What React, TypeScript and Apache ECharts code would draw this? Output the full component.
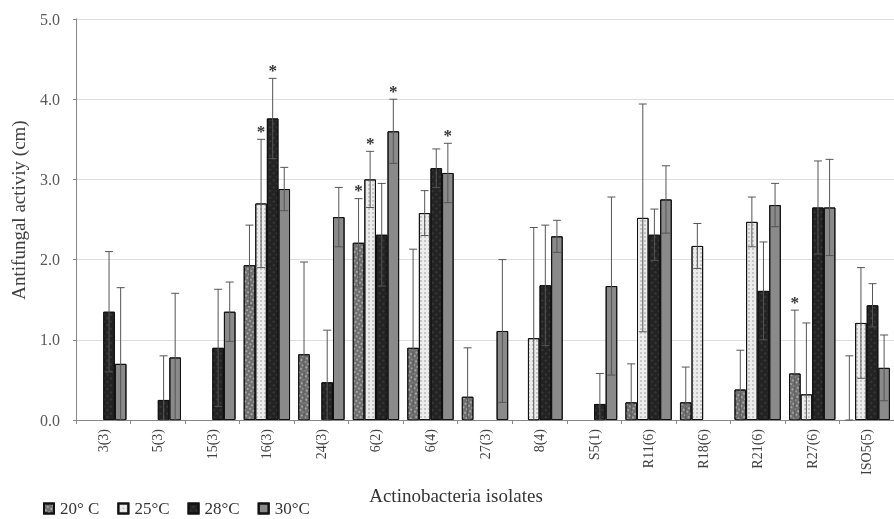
import React, { useEffect, useRef } from "react";
import * as echarts from "echarts";

const categories = ["3(3)", "5(3)", "15(3)", "16(3)", "24(3)", "6(2)", "6(4)", "27(3)", "8(4)", "S5(1)", "R11(6)", "R18(6)", "R21(6)", "R27(6)", "ISO5(5)"];
const seriesNames = ["20° C", "25°C", "28°C", "30°C"];

const mean20 = [0, 0, 0, 1.93, 0.82, 2.21, 0.9, 0.29, 0, 0, 0.22, 0.22, 0.38, 0.58, 0];
const err20 = [0, 0, 0, 0.5, 1.15, 0.55, 1.23, 0.61, 0, 0, 0.48, 0.44, 0.49, 0.79, 0.8];
const mean25 = [0, 0, 0, 2.7, 0, 3.0, 2.58, 0, 1.02, 0, 2.52, 2.17, 2.47, 0.32, 1.21];
const err25 = [0, 0, 0, 0.8, 0, 0.35, 0.28, 0, 1.38, 0, 1.42, 0.28, 0.31, 0.89, 0.69];
const mean28 = [1.35, 0.25, 0.9, 3.76, 0.47, 2.31, 3.14, 0, 1.68, 0.2, 2.31, 0, 1.61, 2.65, 1.43];
const err28 = [0.75, 0.55, 0.73, 0.5, 0.65, 0.64, 0.24, 0, 0.75, 0.38, 0.32, 0, 0.61, 0.58, 0.27];
const mean30 = [0.7, 0.78, 1.35, 2.88, 2.53, 3.6, 3.08, 1.11, 2.29, 1.67, 2.75, 0, 2.68, 2.65, 0.65];
const err30 = [0.95, 0.8, 0.37, 0.27, 0.37, 0.4, 0.37, 0.89, 0.2, 1.11, 0.42, 0, 0.27, 0.6, 0.41];

const stars20 = ["6(2)", "R27(6)"];
const stars25 = ["16(3)", "6(2)"];
const stars28 = ["16(3)"];
const stars30 = ["6(2)", "6(4)"];

const yTicks = [0, 1, 2, 3, 4, 5];

const means = [mean20, mean25, mean28, mean30];
const errs = [err20, err25, err28, err30];
const stars = [stars20, stars25, stars28, stars30];

const SERIF = "'Liberation Serif', 'Times New Roman', serif";
const CAT_GAP = 0.15;

const fills = ["#6e6e6e", "#ececec", "#232323", "#8a8a8a"];
const decals: any[] = [
  { symbol: "rect", symbolSize: 1, dashArrayX: [2, 2], dashArrayY: [2, 2], color: "rgba(205,205,205,0.55)" },
  { symbol: "rect", symbolSize: 1, dashArrayX: [2, 2], dashArrayY: [2, 2], color: "rgba(150,150,150,0.45)" },
  { symbol: "rect", symbolSize: 1, dashArrayX: [2, 3], dashArrayY: [2, 3], color: "rgba(80,80,80,0.45)" },
  { symbol: "rect", symbolSize: 1, dashArrayX: [1, 3], dashArrayY: [1, 3], color: "rgba(0,0,0,0)" },
];

export default function App() {
  const ref = useRef<HTMLDivElement>(null);
  useEffect(() => {
    if (!ref.current) return;
    const chart = echarts.init(ref.current, null, { renderer: "svg" });

    const barSeries = seriesNames.map((name, k) => ({
      type: "bar",
      name,
      data: means[k].map((v) => (v > 0 ? v : null)),
      barGap: "0%",
      barCategoryGap: `${CAT_GAP * 100}%`,
      itemStyle: { color: fills[k], borderColor: "#111", borderWidth: 1, decal: decals[k] },
      z: 2,
    }));

    const errSeries = seriesNames.map((name, k) => ({
      type: "custom",
      name: name + " err",
      z: 4,
      data: means[k].map((v, i) => [i, v, errs[k][i], stars[k].includes(categories[i]) ? 1 : 0]),
      renderItem: (params: any, api: any) => {
        const ci = api.value(0);
        const v = api.value(1);
        const e = api.value(2);
        const star = api.value(3);
        if (!e) return null;
        const band = api.size([1, 0])[0];
        const group = band * (1 - CAT_GAP);
        const bw = group / 4;
        const x = api.coord([ci, 0])[0] - group / 2 + (k + 0.5) * bw;
        const yTop = api.coord([ci, v + e])[1];
        const yBot = api.coord([ci, Math.max(0, v - e)])[1];
        const cap = 4;
        const st = { stroke: "#555", lineWidth: 1 };
        const children: any[] = [
          { type: "line", shape: { x1: x, y1: yTop, x2: x, y2: yBot }, style: st },
          { type: "line", shape: { x1: x - cap, y1: yTop, x2: x + cap, y2: yTop }, style: st },
          { type: "line", shape: { x1: x - cap, y1: yBot, x2: x + cap, y2: yBot }, style: st },
        ];
        if (star) {
          children.push({
            type: "text",
            x,
            y: yTop - 8,
            style: { text: "*", fill: "#333", font: `bold 17px ${SERIF}`, align: "center", verticalAlign: "middle" },
          });
        }
        return { type: "group", children };
      },
    }));

    chart.setOption({
      animation: false,
      aria: { enabled: true, decal: { show: true } },
      grid: { left: 76, right: -10, top: 19, bottom: 99, containLabel: false },
      legend: {
        data: seriesNames,
        left: 43,
        top: 500,
        padding: 0,
        itemWidth: 10,
        itemHeight: 10,
        itemGap: 18,
        icon: "rect",
        textStyle: { fontFamily: SERIF, fontSize: 17, color: "#333", padding: [0, 0, 0, 1] },
      },
      xAxis: {
        type: "category",
        data: categories,
        axisLine: { lineStyle: { color: "#888" } },
        axisTick: { show: true, length: 4, lineStyle: { color: "#888" } },
        axisLabel: { rotate: 90, fontFamily: SERIF, fontSize: 14, color: "#404040", margin: 9, interval: 0 },
      },
      yAxis: {
        type: "value",
        min: 0,
        max: 5,
        interval: 1,
        axisLine: { show: true, lineStyle: { color: "#888" } },
        axisTick: { show: true, length: 3, lineStyle: { color: "#888" } },
        axisLabel: {
          fontFamily: SERIF,
          fontSize: 16,
          color: "#595959",
          margin: 16,
          formatter: (v: number) => (yTicks.includes(v) ? v.toFixed(1) : ""),
        },
        splitLine: { lineStyle: { color: "#dedede" } },
      },
      graphic: [
        {
          type: "text",
          x: 18,
          y: 210,
          rotation: Math.PI / 2,
          style: {
            text: "Antifungal activiy (cm)",
            font: `19px ${SERIF}`,
            fill: "#404040",
            align: "center",
            verticalAlign: "middle",
          },
        },
        {
          type: "text",
          x: 456,
          y: 495,
          style: {
            text: "Actinobacteria isolates",
            font: `19px ${SERIF}`,
            fill: "#333",
            align: "center",
            verticalAlign: "middle",
          },
        },
      ],
      series: [...barSeries, ...errSeries],
    });
    return () => chart.dispose();
  }, []);
  return <div ref={ref} style={{ position: "fixed", left: 0, top: 0, width: 894, height: 519 }} />;
}
